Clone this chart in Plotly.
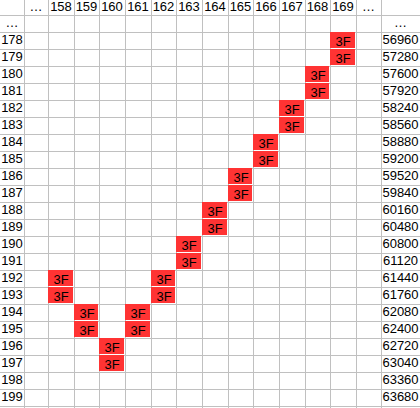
import plotly.graph_objects as go

# ---------------- data ----------------
col_labels = ["158", "159", "160", "161", "162", "163",
              "164", "165", "166", "167", "168", "169"]
row_labels = [178, 179, 180, 181, 182, 183, 184, 185, 186, 187, 188,
              189, 190, 191, 192, 193, 194, 195, 196, 197, 198, 199]
row_values = [56960, 57280, 57600, 57920, 58240, 58560, 58880, 59200,
              59520, 59840, 60160, 60480, 60800, 61120, 61440, 61760,
              62080, 62400, 62720, 63040, 63360, 63680]
# marked cells (row, column) carrying the label "3F"
hit_rows = [178, 179, 180, 181, 182, 183, 184, 185, 186, 187, 188, 189,
            190, 191, 192, 192, 193, 193, 194, 194, 195, 195, 196, 197]
hit_cols = ["169", "169", "168", "168", "167", "167", "166", "166",
            "165", "165", "164", "164", "163", "163", "158", "162",
            "158", "162", "159", "161", "159", "161", "160", "160"]
hit_label = "3F"
ellipsis = "…"

# ---------------- layout geometry (pixels) ----------------
W, H = 420, 408
LABEL_W, LEFT_DOTS_W = 24, 24
DATA_W = 308 / 12
RIGHT_DOTS_W, VALUE_W = 25, 39
HEADER_H, ROW_H = 15, 17

ncol, nrow = len(col_labels), len(row_labels)
x_label = (0, LABEL_W)
x_ldots = (LABEL_W, LABEL_W + LEFT_DOTS_W)
data_x0 = x_ldots[1]
data_x_edges = [round(data_x0 + DATA_W * k) for k in range(ncol + 1)]
x_rdots = (data_x_edges[-1], data_x_edges[-1] + RIGHT_DOTS_W)
x_value = (x_rdots[1], x_rdots[1] + VALUE_W)

y_header = (0, HEADER_H)
y_dots = (HEADER_H, HEADER_H + ROW_H)
data_y_edges = [y_dots[1] + ROW_H * k for k in range(nrow + 1)]

mid = lambda a, b: (a + b) / 2
col_centers = [mid(data_x_edges[i], data_x_edges[i + 1]) for i in range(ncol)]
row_centers = [mid(data_y_edges[i], data_y_edges[i + 1]) for i in range(nrow)]

# heatmap matrix for marked cells
z = [[None] * ncol for _ in range(nrow)]
txt = [[""] * ncol for _ in range(nrow)]
for r, c in zip(hit_rows, hit_cols):
    i, j = row_labels.index(r), col_labels.index(c)
    z[i][j] = 1
    txt[i][j] = hit_label

FONT = "Arial, 'Liberation Sans', sans-serif"
RED = "#ff3333"
GRID = "#c0c0c0"

fig = go.Figure()
fig.add_trace(go.Heatmap(
    x=data_x_edges, y=data_y_edges, z=z, text=txt,
    texttemplate="%{text}",
    textfont=dict(family=FONT, size=13, color="#000000"),
    colorscale=[[0, RED], [1, RED]], zmin=0, zmax=1,
    showscale=False, xgap=1, ygap=1, hoverinfo="skip",
))

# texts: header, row labels, values, ellipses
tx, ty, tt = [], [], []
for c, cx in zip(col_labels, col_centers):
    tx.append(cx); ty.append(mid(*y_header)); tt.append(c)
tx += [mid(*x_ldots), mid(*x_rdots)]
ty += [mid(*y_header), mid(*y_header)]
tt += [ellipsis, ellipsis]
tx += [mid(*x_label), mid(*x_value)]
ty += [mid(*y_dots), mid(*y_dots)]
tt += [ellipsis, ellipsis]
for r, v, cy in zip(row_labels, row_values, row_centers):
    tx.append(mid(*x_label)); ty.append(cy); tt.append(str(r))
    tx.append(mid(*x_value)); ty.append(cy); tt.append(str(v))

fig.add_trace(go.Scatter(
    x=tx, y=ty, text=tt, mode="text", textposition="middle center",
    textfont=dict(family=FONT, size=13, color="#000000"),
    hoverinfo="skip", showlegend=False, cliponaxis=False,
))

x_grid = [x_label[1], x_ldots[1]] + data_x_edges[1:] + [x_rdots[1]]
y_grid = [y_header[1]] + data_y_edges

fig.update_layout(
    width=W, height=H, margin=dict(l=0, r=0, t=0, b=0),
    paper_bgcolor="white", plot_bgcolor="white",
    showlegend=False,
    xaxis=dict(range=[0, W], tickmode="array", tickvals=x_grid,
               showticklabels=False, ticks="", showgrid=True,
               gridcolor=GRID, gridwidth=1, zeroline=False,
               showline=False, fixedrange=True),
    yaxis=dict(range=[H, 0], tickmode="array", tickvals=y_grid,
               showticklabels=False, ticks="", showgrid=True,
               gridcolor=GRID, gridwidth=1, zeroline=False,
               showline=False, fixedrange=True),
)

fig.write_html(
    "out.html",
    config={"displayModeBar": False, "staticPlot": True},
    post_script="document.body.style.margin='0';document.body.style.overflow='hidden';",
)
